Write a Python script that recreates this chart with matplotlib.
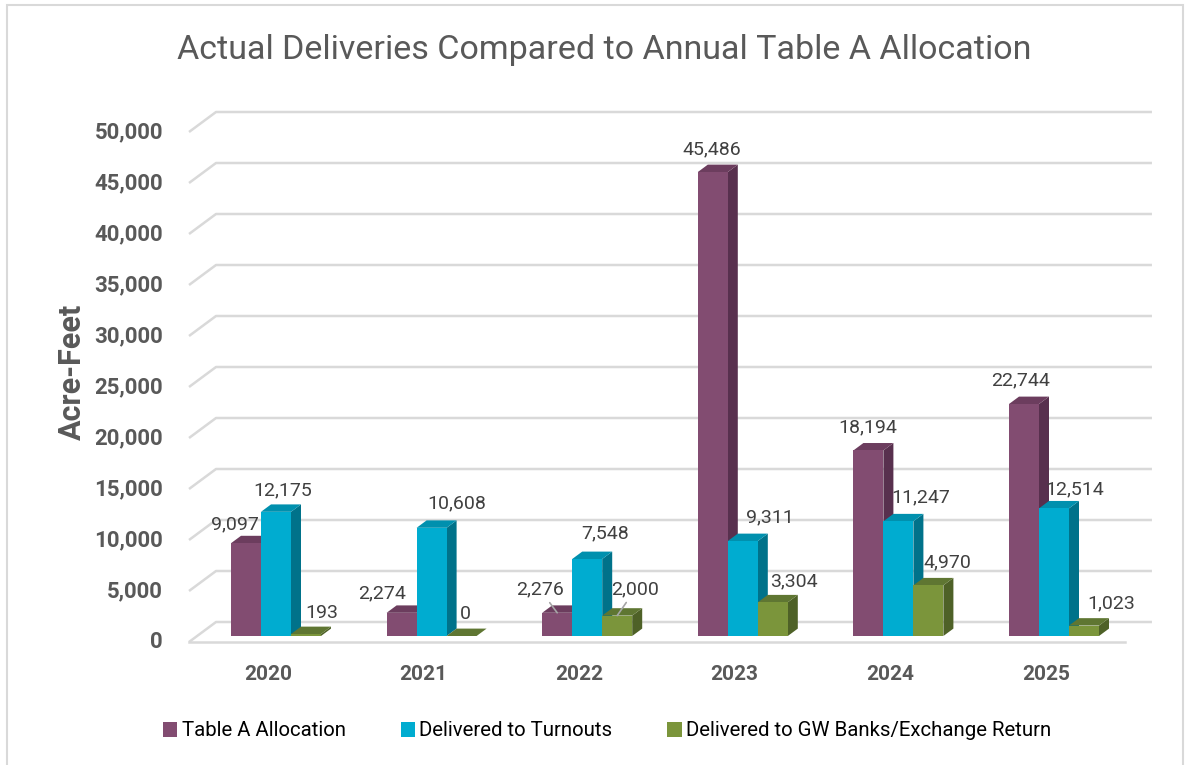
import matplotlib
matplotlib.use("Agg")
import matplotlib.pyplot as plt
from matplotlib.patches import Polygon, Patch, Rectangle

plt.rcParams["font.family"] = ["Roboto", "DejaVu Sans"]

# DATA
years = ["2020", "2021", "2022", "2023", "2024", "2025"]
series_names = ["Table A Allocation", "Delivered to Turnouts",
                "Delivered to GW Banks/Exchange Return"]
table_a = [9097, 2274, 2276, 45486, 18194, 22744]
turnouts = [12175, 10608, 7548, 9311, 11247, 12514]
gw_banks = [193, 0, 2000, 3304, 4970, 1023]
y_ticks = list(range(0, 50001, 5000))

# STYLE
front_colors = ["#824c71", "#00acd0", "#7b953b"]
side_colors = ["#58304e", "#00728a", "#4e6127"]
top_colors = ["#6c3d5e", "#0090ae", "#5f7632"]
grid_color = "#d9d9d9"
text_color = "#404040"
axis_color = "#595959"

# label offsets in pixels (dx, dy) from front-top centre of each bar
label_off = [
    [(-11, 19), (7, 21), (16, 21)],
    [(-20, 19), (25, 24), (4, 22)],
    [(-17, 23), (18, 26), (18, 26)],
    [(-1, 23), (27, 24), (21, 21)],
    [(-1, 23), (22, 24), (19, 23)],
    [(-3, 24), (21, 19), (27, 22)],
]
leaders = {(2, 0), (2, 2)}

# pixel geometry of the fake 3D projection
W, H = 1190, 765
PX_CAT = 155.6      # px per category
X0 = 276            # px of category 0 centre
PX_UNIT = 0.0102    # px per acre-foot
Y0 = 636            # px (from top) of value 0 at the bar front plane
DX = 27 / PX_CAT    # depth shift of back wall
DY = 20 / PX_UNIT
BAR_W = 30 / PX_CAT
D_FRONT = 0.3
D_BACK = 0.3 + 10 / 27
X_LEFT, X_RIGHT = -0.507, 5.508


def proj(x, v, d):
    return x + (d - D_FRONT) * DX, v + (d - D_FRONT) * DY


fig = plt.figure(figsize=(W / 100, H / 100), dpi=100)
ax = fig.add_axes([0, 0, 1, 1])
ax.set_xlim(-X0 / PX_CAT, (W - X0) / PX_CAT)
ax.set_ylim((Y0 - H) / PX_UNIT, Y0 / PX_UNIT)
ax.axis("off")

# chart border
fig.patches.append(Rectangle((7 / W, -0.01), (1183 - 7) / W, 1 - 5 / H + 0.01,
                             transform=fig.transFigure, fill=False,
                             edgecolor=grid_color, linewidth=1.5))

# gridlines on back wall + left diagonals
for v in y_ticks:
    p0 = proj(X_LEFT, v, 0)
    p1 = proj(X_LEFT, v, 1)
    p2 = proj(X_RIGHT, v, 1)
    ax.plot([p0[0], p1[0], p2[0]], [p0[1], p1[1], p2[1]],
            color=grid_color, lw=1.8, zorder=1, solid_capstyle="butt")
    ax.annotate(f"{v:,}", xy=p0, xytext=(-26 * 0.72, 0), textcoords="offset points",
                ha="right", va="center", fontsize=16, fontweight="bold", color=axis_color)
f0 = proj(X_LEFT, 0, 0)
f1 = proj(X_RIGHT, 0, 0)
ax.plot([f0[0], f1[0]], [f0[1], f1[1]], color=grid_color, lw=1.8, zorder=1)

# bars
all_series = [table_a, turnouts, gw_banks]
for i, year in enumerate(years):
    for s, vals in enumerate(all_series):
        v = vals[i]
        x0 = i - 1.5 * BAR_W + s * BAR_W
        x1 = x0 + BAR_W
        front = [proj(x0, 0, D_FRONT), proj(x1, 0, D_FRONT),
                 proj(x1, v, D_FRONT), proj(x0, v, D_FRONT)]
        side = [proj(x1, 0, D_FRONT), proj(x1, 0, D_BACK),
                proj(x1, v, D_BACK), proj(x1, v, D_FRONT)]
        top = [proj(x0, v, D_FRONT), proj(x1, v, D_FRONT),
               proj(x1, v, D_BACK), proj(x0, v, D_BACK)]
        ax.add_patch(Polygon(side, closed=True, facecolor=side_colors[s], lw=0, zorder=3))
        ax.add_patch(Polygon(top, closed=True, facecolor=top_colors[s], lw=0, zorder=3))
        ax.add_patch(Polygon(front, closed=True, facecolor=front_colors[s], lw=0, zorder=3))

        dx, dy = label_off[i][s]
        xc = (x0 + x1) / 2
        arrow = None
        if (i, s) in leaders:
            arrow = dict(arrowstyle="-", color="#a6a6a6", lw=1.2, shrinkA=1, shrinkB=0)
        ax.annotate(f"{v:,}", xy=proj(xc, v, D_FRONT), xytext=(dx * 0.72, dy * 0.72),
                    textcoords="offset points", ha="center", va="center",
                    fontsize=14, color=text_color, arrowprops=arrow, zorder=5)

    ax.annotate(year, xy=proj(i, 0, 0), xytext=(0, -33 * 0.72), textcoords="offset points",
                ha="center", va="center", fontsize=15, fontweight="bold", color=axis_color)

fig.text(72 / W, 1 - 372 / H, "Acre-Feet", rotation=90, ha="center", va="center",
         fontsize=22, fontweight="bold", color=axis_color)
fig.text(604 / W, 1 - 50 / H, "Actual Deliveries Compared to Annual Table A Allocation",
         ha="center", va="center", fontsize=24.5, color=axis_color)

handles = [Patch(facecolor=c, edgecolor="none") for c in front_colors]
fig.legend(handles, series_names, loc="center", bbox_to_anchor=(607 / W, 1 - 731 / H),
           ncol=3, frameon=False, fontsize=14.7, handlelength=0.7, handleheight=0.7,
           handletextpad=0.2, columnspacing=2.7, labelcolor="black")

fig.savefig("out.png", dpi=100)
